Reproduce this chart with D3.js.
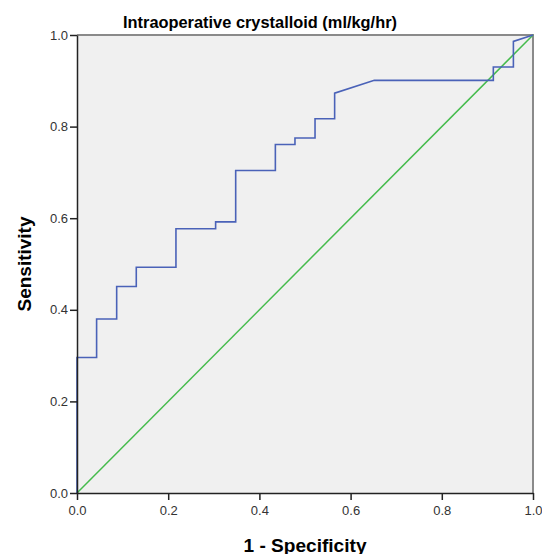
<!DOCTYPE html>
<html>
<head>
<meta charset="utf-8">
<script src="https://cdn.jsdelivr.net/npm/d3@7"></script>
<style>
    body { margin: 0; background: #fff; }
    text { font-family: "Liberation Sans", Arial, sans-serif; }
</style>
</head>
<body>
<div id="chart"></div>
<script>
const title = "Intraoperative crystalloid (ml/kg/hr)";
const xLabel = "1 - Specificity";
const yLabel = "Sensitivity";

// ROC curve vertices
const fpr = [0, 0, 0.043, 0.043, 0.087, 0.087, 0.130, 0.130, 0.217, 0.217, 0.304, 0.304,
    0.348, 0.348, 0.435, 0.435, 0.478, 0.478, 0.522, 0.522, 0.565, 0.565, 0.652, 0.913,
    0.913, 0.957, 0.957, 1.0];
const tpr = [0, 0.296, 0.296, 0.380, 0.380, 0.451, 0.451, 0.493, 0.493, 0.577, 0.577, 0.592,
    0.592, 0.704, 0.704, 0.761, 0.761, 0.775, 0.775, 0.817, 0.817, 0.873, 0.901, 0.901,
    0.930, 0.930, 0.986, 1.0];
const reference = [0, 1];
const ticks = [0, 0.2, 0.4, 0.6, 0.8, 1.0];

const width = 542, height = 554;
const margin = { left: 77, right: 9, top: 35, bottom: 61 };

const svg = d3.select("#chart")
    .append("svg")
    .attr("width", width)
    .attr("height", height);

const x = d3.scaleLinear().domain([0, 1]).range([margin.left, width - margin.right]);
const y = d3.scaleLinear().domain([0, 1]).range([height - margin.bottom, margin.top]);

// plot background
svg.append("rect")
    .attr("x", x(0))
    .attr("y", y(1))
    .attr("width", x(1) - x(0))
    .attr("height", y(0) - y(1))
    .style("fill", "#f0f0f0");

// top and right frame
svg.append("path")
    .attr("d", `M${x(0)},${y(1)}H${x(1)}V${y(0)}`)
    .style("fill", "none")
    .style("stroke", "#8a8a8a")
    .style("stroke-width", 2);

// reference diagonal
svg.append("line")
    .attr("x1", x(reference[0])).attr("y1", y(reference[0]))
    .attr("x2", x(reference[1])).attr("y2", y(reference[1]))
    .style("stroke", "#45bb4c")
    .style("stroke-width", 1.5);

// ROC curve
const points = fpr.map((d, i) => [d, tpr[i]]);
const line = d3.line()
    .x(d => x(d[0]))
    .y(d => y(d[1]));

svg.append("path")
    .datum(points)
    .attr("d", line)
    .style("fill", "none")
    .style("stroke", "#4a62b8")
    .style("stroke-width", 1.6);

// axes
const xAxis = svg.append("g")
    .attr("transform", `translate(0,${y(0)})`)
    .call(d3.axisBottom(x).tickValues(ticks).tickFormat(d3.format(".1f")).tickSize(7).tickSizeOuter(0));

const yAxis = svg.append("g")
    .attr("transform", `translate(${x(0)},0)`)
    .call(d3.axisLeft(y).tickValues(ticks).tickFormat(d3.format(".1f")).tickSize(7).tickSizeOuter(0));

[xAxis, yAxis].forEach(a => {
    a.select(".domain").style("stroke", "#222").style("stroke-width", 1.5);
    a.selectAll(".tick line").style("stroke", "#222").style("stroke-width", 1.5);
    a.selectAll(".tick text")
        .style("font-size", "13px")
        .style("fill", "#333")
        .style("font-family", "'Liberation Sans', Arial, sans-serif");
});
xAxis.selectAll(".tick text").attr("dy", "0.95em");
yAxis.selectAll(".tick text").attr("x", -9);

// title and labels
svg.append("text")
    .attr("x", 260)
    .attr("y", 28)
    .attr("text-anchor", "middle")
    .attr("textLength", 274)
    .attr("lengthAdjust", "spacingAndGlyphs")
    .style("font-size", "16px")
    .style("font-weight", "bold")
    .text(title);

svg.append("text")
    .attr("x", (x(0) + x(1)) / 2)
    .attr("y", 552)
    .attr("text-anchor", "middle")
    .attr("textLength", 123)
    .attr("lengthAdjust", "spacingAndGlyphs")
    .style("font-size", "18px")
    .style("font-weight", "bold")
    .text(xLabel);

svg.append("text")
    .attr("transform", `translate(31,${(y(0) + y(1)) / 2}) rotate(-90)`)
    .attr("text-anchor", "middle")
    .attr("textLength", 95)
    .attr("lengthAdjust", "spacingAndGlyphs")
    .style("font-size", "18px")
    .style("font-weight", "bold")
    .text(yLabel);
</script>
</body>
</html>
